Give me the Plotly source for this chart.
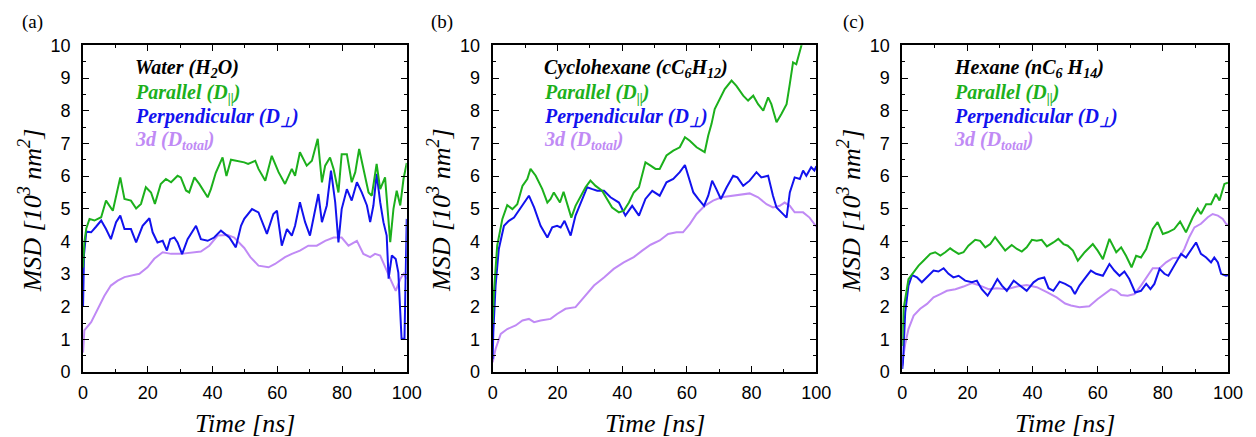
import plotly.graph_objects as go

# ---------------- data (time [ns], MSD [10^3 nm^2]) ----------------
a_par = [(0,3.2),(0.4,3.97),(1,4.4),(2,4.69),(3.5,4.64),(5.6,4.74),(7.1,5.25),(9.2,4.94),(11.5,5.96),(12.8,5.30),(14.8,5.25),(16.4,5.01),(17.9,5.15),(19.4,5.66),(21,5.5),(22.2,5.15),(24,5.76),(25.6,5.91),(27.2,5.81),(29.2,6.01),(30.2,5.96),(31.8,5.56),(32.8,5.5),(34.4,5.96),(35.9,5.76),(38.5,5.35),(39.5,5.6),(41,6.1),(43.1,6.57),(44.3,6.0),(45.7,6.5),(47.7,6.47),(49.8,6.42),(51,6.37),(53.2,6.47),(54.2,6.22),(56.3,5.86),(58.3,6.62),(60.4,6.12),(62.4,5.76),(64.5,6.22),(65.5,6.01),(67,6.73),(69.1,6.32),(70.7,6.47),(72.5,7.14),(73.8,5.81),(74.8,6.32),(76.3,6.57),(77.4,6.22),(78.9,5.50),(79.9,6.67),(81.5,6.67),(83,5.81),(84.1,6.12),(85.3,6.83),(86.6,6.22),(88.2,5.50),(89.2,5.40),(90.7,6.37),(91.8,5.60),(93.3,5.96),(94.9,3.98),(95.9,5.0),(96.9,5.55),(98,5.1),(99,5.91),(100,6.4)]
a_perp = [(0,2.0),(0.3,3.6),(1,4.3),(2.5,4.28),(4,4.45),(5.6,4.64),(7.1,4.38),(8.6,4.07),(10.2,4.59),(11.5,4.79),(12.8,4.38),(14.8,4.38),(16.4,3.97),(18.4,4.48),(20.5,4.71),(21.5,4.28),(23,3.97),(24.6,4.02),(25.9,3.72),(26.9,4.07),(28.2,4.12),(29.2,3.97),(30.6,3.61),(32.3,4.07),(34.9,4.48),(36.4,4.07),(38.5,4.02),(40.5,4.12),(42.6,4.33),(45.2,4.12),(47.2,3.82),(48.8,4.48),(49.8,4.69),(52.2,4.99),(54.2,4.89),(56.8,4.23),(58.8,4.84),(59.9,4.94),(61.4,3.87),(63,4.38),(64.5,4.18),(65.5,4.48),(67,5.2),(68.6,4.59),(70.1,4.18),(71.7,4.99),(72.7,5.45),(73.8,4.59),(75.3,5.1),(76.6,6.17),(77.9,5.2),(78.9,3.97),(79.9,4.99),(81.5,5.6),(83,5.25),(84.6,5.81),(86.1,5.5),(87.7,5.1),(88.7,4.59),(89.7,5.1),(90.7,6.07),(91.8,5.2),(92.8,4.59),(93.8,4.18),(94.4,2.86),(95.4,3.57),(96.6,3.46),(97.4,3.05),(98,1.53),(98.4,1.02),(99.3,1.02),(99.7,3.26),(100,4.69)]
a_3d = [(0,0.6),(0.4,1.28),(2.5,1.53),(4.5,1.94),(6.6,2.34),(8.6,2.65),(10.7,2.80),(12.8,2.91),(14.8,2.96),(17.4,3.01),(19.9,3.21),(22,3.47),(24.6,3.67),(27.2,3.62),(30.2,3.62),(33.3,3.65),(36.4,3.69),(39,3.87),(41.6,4.18),(44.7,4.20),(46.7,4.12),(49.8,3.8),(51.7,3.52),(54.2,3.26),(57.3,3.21),(59.3,3.31),(62.4,3.52),(64.5,3.62),(67,3.72),(69.6,3.87),(72.2,3.87),(74.8,4.02),(77.4,4.12),(79.9,4.12),(82,3.87),(84.6,4.02),(86.6,3.62),(88.7,3.52),(90.2,3.62),(91.8,3.57),(93.3,3.21),(95.4,2.75),(96.6,2.49),(98,2.85),(99,3.01),(100,2.85)]

b_par = [(0,1.5),(0.4,2.45),(1.4,3.87),(3,4.69),(4.5,5.11),(6.1,4.99),(7.6,5.14),(9.2,5.70),(10.7,5.91),(11.7,6.22),(13.3,6.01),(15.3,5.61),(16.9,5.19),(17.9,5.30),(18.9,5.50),(19.9,5.35),(20.8,5.19),(21.9,5.52),(23,5.19),(24.3,4.73),(25.6,5.09),(27.2,5.40),(28.7,5.66),(30.2,5.86),(31.8,5.70),(33.8,5.55),(35.4,5.30),(36.9,5.04),(39,4.89),(40.5,4.94),(42.1,5.19),(43.6,5.50),(45.2,5.66),(47.2,6.42),(48.8,6.32),(50.3,6.22),(51.6,6.22),(53.7,6.63),(55.8,6.78),(57.8,6.88),(59.4,7.19),(60.9,7.08),(63,6.88),(65.5,6.73),(66.6,7.24),(67.6,7.59),(68.6,8.05),(70.2,8.36),(71.7,8.66),(73.8,8.92),(75.3,8.76),(77.4,8.46),(78.9,8.31),(80.5,8.46),(82,8.20),(83.6,8.0),(85.1,8.41),(86.1,8.20),(87.7,7.65),(89.2,7.90),(90.8,8.20),(91.8,8.82),(92.8,9.48),(93.8,9.42),(94.9,9.79),(95.4,10.0),(96.5,10.6)]
b_perp = [(0,0.4),(0.2,1.22),(0.9,2.65),(1.9,3.77),(3.5,4.48),(5,4.63),(6.6,4.73),(8.1,4.94),(9.7,5.19),(11.2,5.40),(12.8,5.04),(14.8,4.48),(16.9,4.12),(18.4,4.43),(19.9,4.48),(21,4.43),(22.2,4.63),(23,4.43),(24.1,4.18),(25.6,4.79),(27.2,5.19),(29.2,5.66),(30.8,5.60),(32.3,5.55),(34.4,5.55),(36.4,5.35),(39,5.19),(41,4.79),(43.1,5.09),(45.2,4.79),(47.2,5.30),(49.3,5.55),(51.6,5.40),(53.7,5.81),(55.8,5.91),(57.8,6.12),(59.4,6.34),(60.4,6.01),(62,5.50),(63.5,5.30),(65.3,5.09),(66.6,5.40),(67.8,5.86),(69.1,5.60),(70.5,5.30),(72.3,5.66),(74.3,6.01),(75.6,5.96),(77.4,5.70),(79.4,5.86),(81.5,6.12),(83,5.96),(85.1,6.01),(86.6,5.40),(87.7,5.04),(89.2,4.89),(90.8,4.73),(91.8,5.50),(93.3,5.96),(94.9,5.91),(95.9,6.17),(96.9,6.01),(98.4,6.27),(99.4,6.17),(100,6.3)]
b_3d = [(0,0.3),(0.9,0.71),(2.5,1.17),(4.5,1.32),(7.1,1.43),(9.2,1.58),(11.2,1.63),(12.8,1.53),(14.8,1.58),(17.9,1.63),(19.9,1.78),(22.5,1.94),(25.6,1.99),(28.2,2.29),(31.3,2.65),(34.4,2.90),(37.4,3.16),(40.5,3.36),(43.6,3.52),(46.2,3.72),(48.8,3.9),(51.6,4.03),(54.2,4.23),(56.8,4.28),(58.8,4.28),(60.9,4.53),(63,4.84),(65.5,5.09),(68.1,5.25),(70.7,5.35),(73.8,5.40),(76.9,5.45),(79.4,5.47),(82,5.35),(84.6,5.14),(86.6,5.04),(88.7,5.09),(90.2,5.19),(91.8,5.09),(93.3,4.89),(95.9,4.89),(97.9,4.73),(99.6,4.48),(100,4.45)]

c_par = [(0,0.8),(0.4,1.94),(1.9,2.85),(3.5,3.06),(5,3.26),(6.5,3.41),(8.6,3.62),(10.1,3.67),(11.7,3.57),(13.2,3.67),(14.7,3.79),(15.7,3.72),(17.3,3.62),(18.8,3.67),(20.3,3.87),(22.4,4.05),(23.9,4.02),(25.5,3.82),(27,3.92),(28.5,4.13),(30.1,3.92),(31.6,3.72),(33.6,3.89),(35.2,3.77),(36.7,3.69),(38.2,3.82),(39.8,4.05),(41.3,4.02),(42.8,4.05),(44.4,3.85),(46.4,3.97),(47.9,4.08),(49.5,3.92),(50.8,3.87),(52.4,3.72),(53.9,3.41),(56,3.67),(58.5,3.92),(60,3.72),(61.6,3.46),(63.6,4.08),(65.7,3.67),(67.2,3.82),(68.7,3.56),(70.4,3.21),(71.8,3.56),(73.3,3.51),(74.9,3.77),(76.9,4.38),(78.4,4.59),(80,4.23),(81.5,4.28),(83.5,4.38),(85.3,4.61),(87.1,4.28),(89.2,4.74),(90.7,5.0),(91.7,4.84),(93.3,5.14),(94.8,5.14),(96.3,5.45),(97.4,5.25),(98.9,5.76),(100,5.8)]
c_perp = [(0,0.1),(0.2,0.3),(0.9,1.83),(1.9,2.65),(3,2.97),(4.5,2.90),(6,2.75),(7.6,2.90),(9.6,3.11),(11.1,3.08),(12.7,3.18),(14.2,3.01),(15.7,2.90),(17.3,2.95),(19.3,2.80),(21.4,2.75),(22.9,2.80),(24.4,2.54),(26.2,2.34),(27.8,2.60),(29.2,2.85),(30.6,2.65),(32.1,2.49),(34.2,2.80),(36.2,2.65),(38.2,2.49),(40.3,2.75),(41.8,2.85),(43.6,2.90),(44.9,2.57),(46.4,2.49),(48.3,2.77),(50,2.70),(51.8,2.60),(53,2.39),(54.4,2.65),(55.9,2.85),(57.9,3.11),(59.5,3.01),(61.6,2.95),(63.6,3.31),(65.1,3.11),(66.7,2.95),(68.2,3.08),(69.7,2.85),(71.5,2.44),(73.3,2.49),(74.9,2.70),(76.2,2.54),(77.4,2.70),(79,3.16),(80.5,3.01),(81.7,2.95),(83.5,3.26),(85.6,3.62),(87.1,3.51),(88.6,3.72),(90.2,3.97),(91.7,3.62),(93.3,3.51),(94.8,3.36),(95.8,3.51),(96.9,3.36),(97.9,3.01),(99.4,2.95),(100,2.97)]
c_3d = [(0,0.2),(0.2,0.4),(0.9,0.86),(1.9,1.32),(3.5,1.73),(5.5,1.94),(7.6,2.09),(9.6,2.29),(11.7,2.39),(13.7,2.49),(16.3,2.54),(18.8,2.62),(21.4,2.73),(23.9,2.65),(26.5,2.54),(29,2.57),(32.1,2.54),(35.2,2.62),(38.2,2.67),(41.3,2.60),(44.4,2.45),(47.4,2.29),(50,2.1),(51.8,2.04),(54.4,1.99),(57.4,2.02),(60,2.24),(62.1,2.39),(64.1,2.54),(65.7,2.49),(67.2,2.36),(69.2,2.34),(71.3,2.39),(73.3,2.65),(75.2,2.95),(76.9,3.18),(79,3.18),(81,3.36),(83,3.49),(85.1,3.51),(86.6,3.77),(88.1,4.13),(89.7,4.43),(91.7,4.54),(93.8,4.74),(95.3,4.84),(96.9,4.79),(98.4,4.69),(99.4,4.54),(100,4.5)]

panel_labels = ["(a)", "(b)", "(c)"]
solvents = ["Water (H<sub>2</sub>O)", "Cyclohexane (cC<sub>6</sub>H<sub>12</sub>)", "Hexane (nC<sub>6</sub> H<sub>14</sub>)"]
series_names = ["Parallel (D<sub>||</sub>)", "Perpendicular (D<sub>⊥</sub>)", "3d (D<sub>total</sub>)"]
x_ticks = [0, 20, 40, 60, 80, 100]
y_ticks = list(range(0, 11))

# ---------------- styling / placement ----------------
# Target positions are given in picture pixels; they are mapped to figure
# pixels for the page (8px body margin, slight capture scaling).
SX, SY, OFF = 0.985, 0.955, 8
W, H = 1256, 440


def fx(px):
    return px / SX - OFF


def fy(py):
    return py / SY - OFF


GREEN, BLUE, PURPLE = "#1cb01c", "#1212ee", "#c08af5"
colors = [GREEN, BLUE, PURPLE]
panels_img = [(86, 410), (496, 820), (906, 1232)]
panels_px = [(fx(a), fx(b)) for a, b in panels_img]
top_px, bot_px = fy(43), fy(370)

fig = go.Figure()
panel_data = [(a_par, a_perp, a_3d), (b_par, b_perp, b_3d), (c_par, c_perp, c_3d)]
order = [2, 1, 0]
for i, data in enumerate(panel_data):
    xa = "x" if i == 0 else f"x{i+1}"
    ya = "y" if i == 0 else f"y{i+1}"
    for k in order:
        pts = data[k]
        fig.add_trace(go.Scatter(
            x=[p[0] for p in pts], y=[p[1] for p in pts], mode="lines",
            line=dict(color=colors[k], width=2), xaxis=xa, yaxis=ya,
            showlegend=False, hoverinfo="skip"))

tickfont = dict(family="Liberation Sans, Arial, sans-serif", size=18, color="black")
layout = dict(width=W, height=H, autosize=False, margin=dict(l=0, r=0, t=0, b=0, pad=0),
              paper_bgcolor="white", plot_bgcolor="white", showlegend=False)
ydom = [1 - bot_px / H, 1 - top_px / H]
for i, (x0, x1) in enumerate(panels_px):
    sx = "" if i == 0 else str(i + 1)
    layout["xaxis" + sx] = dict(
        domain=[x0 / W, x1 / W], anchor="y" + sx, range=[0, 100],
        tickvals=x_ticks, ticks="inside", ticklen=6, tickwidth=1.2, tickcolor="black",
        showline=True, linewidth=2, linecolor="black", mirror="ticks",
        showgrid=False, zeroline=False, tickfont=tickfont, ticklabelstandoff=3,
        minor=dict(dtick=10, tick0=0, ticks="inside", ticklen=3, tickcolor="black", showgrid=False))
    layout["yaxis" + sx] = dict(
        domain=ydom, anchor="x" + sx, range=[0, 10],
        tickvals=y_ticks, ticks="inside", ticklen=6, tickwidth=1.2, tickcolor="black",
        showline=True, linewidth=2, linecolor="black", mirror="ticks",
        showgrid=False, zeroline=False, tickfont=tickfont, ticklabelstandoff=7,
        minor=dict(dtick=0.5, tick0=0, ticks="inside", ticklen=3, tickcolor="black", showgrid=False))
fig.update_layout(**layout)

serif = "Liberation Serif, Times New Roman, serif"
ann = []
label_x = [35, 445, 857]
for i, (x0i, x1i) in enumerate(panels_img):
    xr = "x" if i == 0 else f"x{i+1}"
    yr = "y" if i == 0 else f"y{i+1}"
    ann.append(dict(text=panel_labels[i], x=fx(label_x[i]) / W, y=1 - fy(20) / H,
                    xref="paper", yref="paper", showarrow=False, xanchor="center", yanchor="middle",
                    font=dict(family=serif, size=19, color="black")))
    ann.append(dict(text="<i>MSD [10<sup>3</sup> nm<sup>2</sup>]</i>", x=fx(x0i - 53) / W, y=1 - fy(208) / H,
                    xref="paper", yref="paper", showarrow=False, textangle=-90,
                    xanchor="center", yanchor="middle", font=dict(family=serif, size=26, color="black")))
    ann.append(dict(text="<i>Time [ns]</i>", x=fx((x0i + x1i) / 2) / W, y=1 - fy(421) / H,
                    xref="paper", yref="paper", showarrow=False,
                    xanchor="center", yanchor="middle", font=dict(family=serif, size=26, color="black")))
    ys = [9.3, 8.52, 7.8, 7.1]
    texts = [solvents[i]] + series_names
    cols = ["black"] + colors
    for j in range(4):
        ann.append(dict(text=f"<b><i>{texts[j]}</i></b>", x=15.3, y=ys[j], xref=xr, yref=yr,
                        showarrow=False, xanchor="left", yanchor="middle",
                        font=dict(family=serif, size=20, color=cols[j])))
fig.update_layout(annotations=ann)

fig.write_html("out.html")
